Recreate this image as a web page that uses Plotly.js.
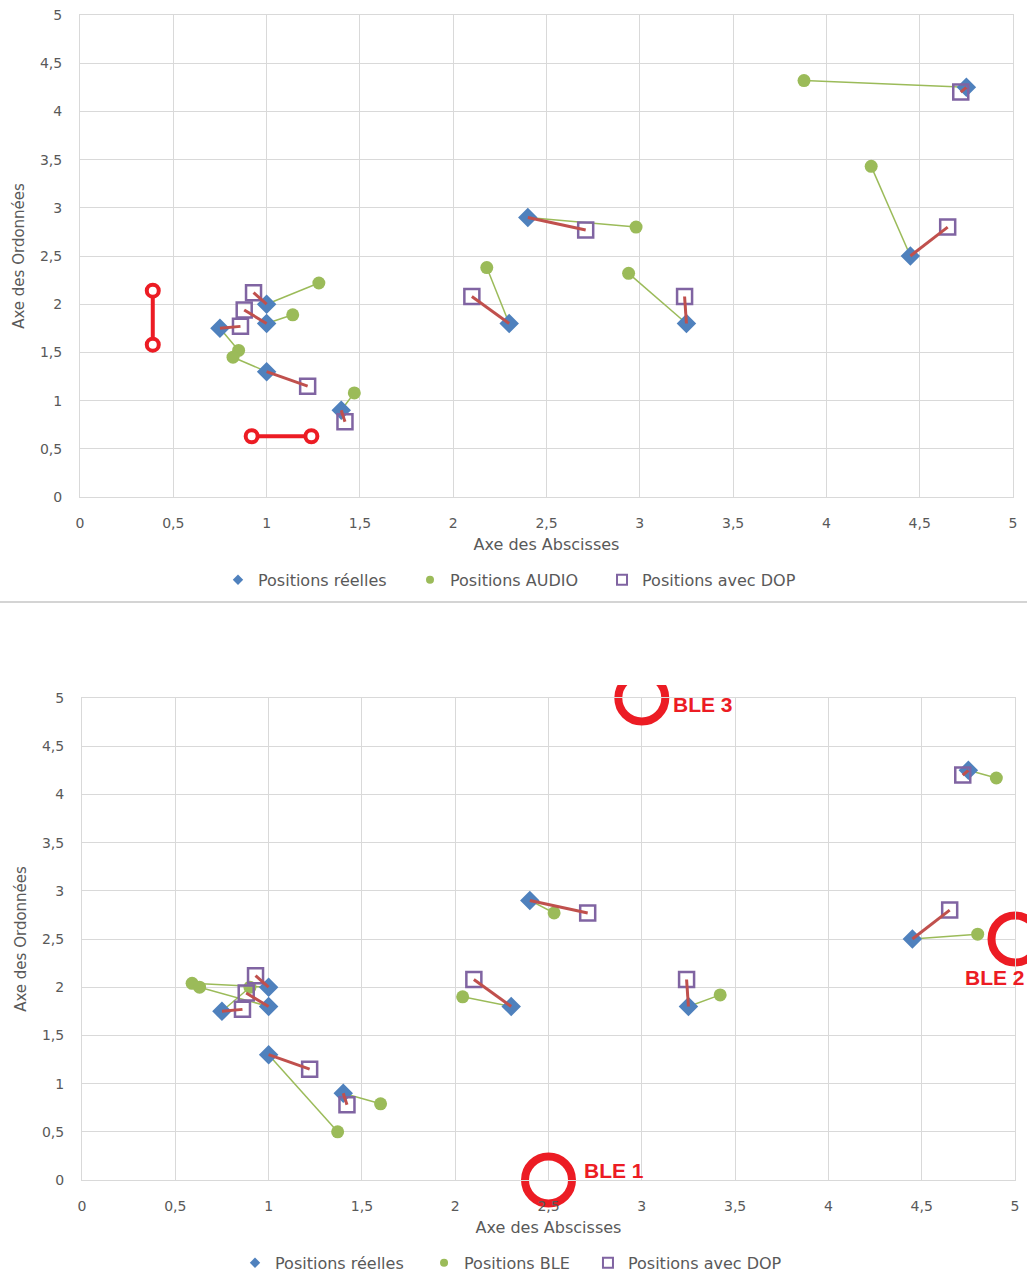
<!DOCTYPE html>
<html><head><meta charset="utf-8">
<script src="https://cdn.plot.ly/plotly-3.0.1.min.js"></script>
<style>
html,body{margin:0;padding:0;background:#fff;width:1027px;height:1282px;overflow:hidden;}
#top{position:absolute;left:0;top:0;width:1027px;height:600px;}
#sep{position:absolute;left:0;top:601px;width:1027px;height:2px;background:#d4d4d4;}
#bot{position:absolute;left:0;top:604px;width:1027px;height:678px;}
</style></head>
<body>
<div id="top"></div><div id="sep"></div><div id="bot"></div>
<script>
// Data
const realX  = [0.75, 1, 1, 1, 1.4, 2.4, 2.3, 3.25, 4.45, 4.75];
const realY  = [1.75, 2, 1.8, 1.3, 0.9, 2.9, 1.8, 1.8, 2.5, 4.25];
const dopX   = [0.86, 0.93, 0.88, 1.22, 1.42, 2.71, 2.1, 3.24, 4.65, 4.72];
const dopY   = [1.77, 2.12, 1.94, 1.15, 0.78, 2.77, 2.08, 2.08, 2.8, 4.2];
const audioX = [0.85, 1.28, 1.14, 0.82, 1.47, 2.98, 2.18, 2.94, 4.24, 3.88];
const audioY = [1.52, 2.22, 1.89, 1.45, 1.08, 2.8, 2.38, 2.32, 3.43, 4.32];
const bleX   = [0.9, 0.59, 0.63, 1.37, 1.6, 2.53, 2.04, 3.42, 4.8, 4.9];
const bleY   = [2.0, 2.04, 2.0, 0.5, 0.79, 2.77, 1.9, 1.92, 2.55, 4.17];
// red markings on the first chart
const markVX = [0.39, 0.39], markVY = [2.14, 1.58];
const markHX = [0.92, 1.24], markHY = [0.63, 0.63];
// BLE beacons
const beaconX = [2.5, 5, 3], beaconY = [0, 2.5, 5];
const beaconLabels = ['BLE 1', 'BLE 2', 'BLE 3'];
const tickVals = [0, 0.5, 1, 1.5, 2, 2.5, 3, 3.5, 4, 4.5, 5];

const BLUE = '#4F81BD', GREEN = '#9BBB59', PURPLE = '#8064A2', DRED = '#C0504D', RED = '#EC1C24';
const FONT = 'DejaVu Sans, Open Sans, sans-serif';

function pairs(ax, ay, bx, by) {
  const x = [], y = [];
  for (let i = 0; i < ax.length; i++) { x.push(ax[i], bx[i], null); y.push(ay[i], by[i], null); }
  return {x, y};
}

function baseTraces(ox, oy, name) {
  const g = pairs(realX, realY, ox, oy);
  const r = pairs(realX, realY, dopX, dopY);
  return [
    {x: g.x, y: g.y, mode: 'lines', line: {color: GREEN, width: 1.5}, showlegend: false, hoverinfo: 'skip'},
    {x: ox, y: oy, mode: 'markers', marker: {symbol: 'circle', color: GREEN, size: 13}, showlegend: false},
    {x: realX, y: realY, mode: 'markers', marker: {symbol: 'diamond', color: BLUE, size: 15}, showlegend: false},
    {x: dopX, y: dopY, mode: 'markers', marker: {symbol: 'square-open', color: PURPLE, size: 15, line: {width: 2.5, color: PURPLE}}, showlegend: false},
    {x: r.x, y: r.y, mode: 'lines', line: {color: DRED, width: 3}, showlegend: false, hoverinfo: 'skip'},
    // legend entries (small symbols as in the reference legend), one legend box each
    {x: [null], y: [null], mode: 'markers', name: 'Positions réelles', legend: 'legend', marker: {symbol: 'diamond', color: BLUE, size: 8}},
    {x: [null], y: [null], mode: 'markers', name: name, legend: 'legend2', marker: {symbol: 'circle', color: GREEN, size: 8}},
    {x: [null], y: [null], mode: 'markers', name: 'Positions avec DOP', legend: 'legend3', marker: {symbol: 'square-open', color: PURPLE, size: 10, line: {width: 2, color: PURPLE}}}
  ];
}

function axis(title, isY) {
  return {
    range: [0, 5], tickvals: tickVals, showgrid: true, gridcolor: '#d9d9d9', gridwidth: 1,
    zeroline: false, showline: true, linecolor: '#d9d9d9', linewidth: 1, mirror: true,
    ticks: '', ticklabelstandoff: isY ? 14 : 13, automargin: false,
    tickfont: {family: FONT, size: 14, color: '#595959'},
    title: {text: title, font: {family: FONT, size: isY ? 15 : 16, color: '#595959'}, standoff: isY ? 11 : 9},
    fixedrange: true
  };
}

function leg(x) {
  return {orientation: 'h', x: x, xanchor: 'left', y: -0.172, yanchor: 'middle',
          font: {family: FONT, size: 16, color: '#595959'}, itemwidth: 30};
}

function layout(t, b, l, r, lx) {
  return {
    width: 1027, height: t + b + 482,
    margin: {l: l, r: r, t: t, b: b, autoexpand: false},
    paper_bgcolor: '#fff', plot_bgcolor: '#fff',
    separators: ', ',
    xaxis: axis('Axe des Abscisses', false),
    yaxis: axis('Axe des Ordonnées', true),
    legend: leg(lx[0]), legend2: leg(lx[1]), legend3: leg(lx[2]),
    showlegend: true
  };
}

// Top chart
const topTraces = baseTraces(audioX, audioY, 'Positions AUDIO');
topTraces.push(
  {x: markVX, y: markVY, mode: 'lines+markers', line: {color: RED, width: 4}, marker: {symbol: 'circle', color: '#fff', size: 12, line: {color: RED, width: 4}}, showlegend: false, cliponaxis: false},
  {x: markHX, y: markHY, mode: 'lines+markers', line: {color: RED, width: 4}, marker: {symbol: 'circle', color: '#fff', size: 12, line: {color: RED, width: 4}}, showlegend: false, cliponaxis: false}
);
Plotly.newPlot('top', topTraces, layout(15, 103, 80, 14, [0.1479, 0.3537, 0.5595]), {displayModeBar: false, staticPlot: true});

// Bottom chart
const botTraces = baseTraces(bleX, bleY, 'Positions BLE');
botTraces.push({x: beaconX, y: beaconY, mode: 'markers', marker: {symbol: 'circle-open', color: RED, size: 47, line: {color: RED, width: 8}}, showlegend: false, cliponaxis: false});
const botLayout = layout(94, 102, 82, 12, [0.1640, 0.3666, 0.5423]);
const bfont = {family: 'Liberation Sans, Arial', size: 21, color: RED, weight: 'bold'};
botLayout.annotations = [
  {x: beaconX[0], y: beaconY[0], text: beaconLabels[0], showarrow: false, xanchor: 'left', yanchor: 'middle', xshift: 33, yshift: 10, font: bfont},
  {x: beaconX[1], y: beaconY[1], text: beaconLabels[1], showarrow: false, xanchor: 'right', yanchor: 'middle', xshift: 12, yshift: -38, font: bfont},
  {x: beaconX[2], y: beaconY[2], text: beaconLabels[2], showarrow: false, xanchor: 'left', yanchor: 'middle', xshift: 29, yshift: -6, font: bfont}
];
botLayout.shapes = [
  {type: 'rect', xref: 'paper', yref: 'paper', x0: 0.5, x1: 0.7, y0: 1.027, y1: 1.2, fillcolor: '#fff', line: {width: 0}, layer: 'above'}
];
Plotly.newPlot('bot', botTraces, botLayout, {displayModeBar: false, staticPlot: true});
</script>
</body></html>
